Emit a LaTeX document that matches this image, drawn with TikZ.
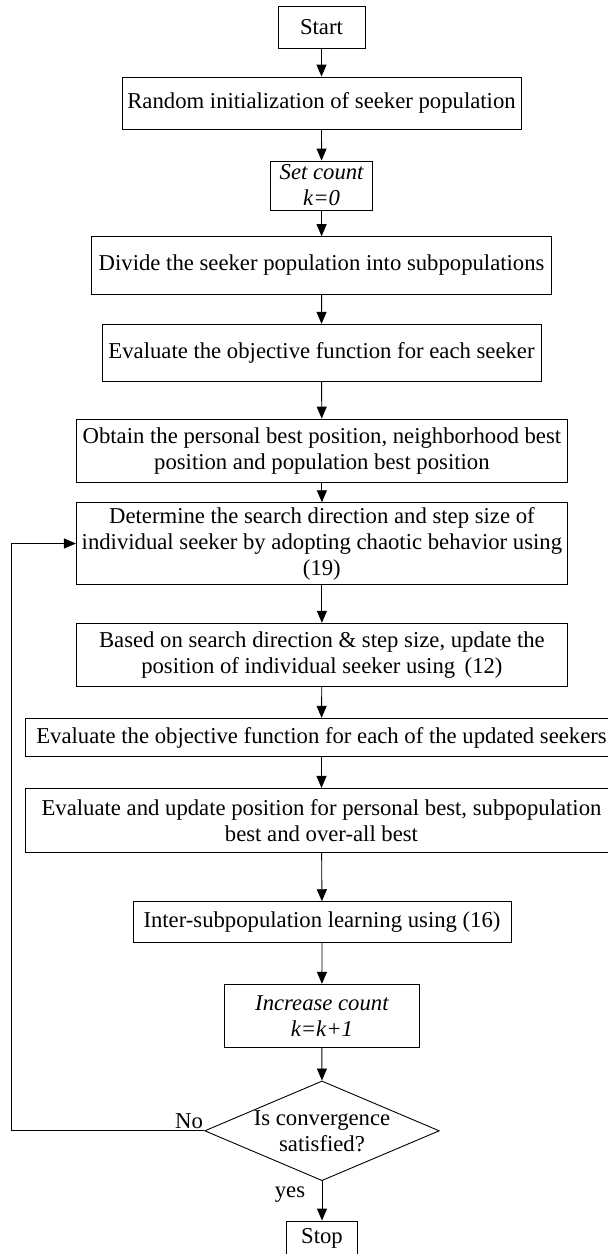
\documentclass[tikz,border=0pt]{standalone}
\usepackage{fontspec}
\setmainfont{Liberation Serif}
\usetikzlibrary{arrows.meta,shapes.geometric}
\begin{document}
\begin{tikzpicture}[x=1pt,y=-1pt,
  every node/.style={font=\fontsize{22.7}{26}\selectfont},
  box/.style={draw, line width=0.9pt, inner sep=0pt, align=center},
  dec/.style={draw, diamond, line width=0.9pt, inner sep=0pt},
  flow/.style={line width=0.9pt, -{Triangle[length=12pt,width=10pt]}},
  lbl/.style={inner sep=0pt, align=center}]
\useasboundingbox (0,0) rectangle (608,1254);
\clip (0,0) rectangle (608,1254);
\node[box, minimum width=87pt, minimum height=41.6pt] (start) at (321.5,27.5) {Start};
\node[box, minimum width=399pt, minimum height=52pt] (rand) at (321.5,103) {Random initialization of seeker population};
\node[box, minimum width=102pt, minimum height=49pt] (set) at (321.6,185.5) {\itshape Set count\\\itshape k=0};
\node[box, minimum width=460pt, minimum height=57.3pt] (div) at (321.6,265.3) {Divide the seeker population into subpopulations};
\node[box, minimum width=439pt, minimum height=57pt] (eval) at (321.5,352.8) {Evaluate the objective function for each seeker};
\node[box, minimum width=491pt, minimum height=63.5pt] (obt) at (321.9,450.8) {Obtain the personal best position, neighborhood best\\position and population best position};
\node[box, minimum width=491pt, minimum height=81.6pt] (det) at (321.9,543.5) {Determine the search direction and step size of\\individual seeker by adopting chaotic behavior using\\(19)};
\node[box, minimum width=491pt, minimum height=63.4pt] (based) at (321.9,655) {Based on search direction \& step size, update the\\position of individual seeker using\, (12)};
\node[box, minimum width=592.4pt, minimum height=38.4pt] (evup) at (321.5,737.5) {Evaluate the objective function for each of the updated seekers};
\node[box, minimum width=592.4pt, minimum height=63.7pt] (evbest) at (321.5,820.2) {Evaluate and update position for personal best, subpopulation\\best and over-all best};
\node[box, minimum width=378pt, minimum height=40.6pt] (inter) at (322,922) {Inter-subpopulation learning using (16)};
\node[box, minimum width=194.5pt, minimum height=63.4pt] (inc) at (321.9,1016) {\itshape Increase count\\\itshape k=k+1};
\node[dec, minimum width=234.7pt, minimum height=99.7pt, shape aspect=2.354] (conv) at (322,1130.8) {};
\node[lbl] (convtxt) at (322,1130.8) {Is convergence\\satisfied?};
\node[box, minimum width=71pt, minimum height=35pt] (stop) at (322,1238.5) {Stop};
\coordinate (lb) at (11,1130.8);
\coordinate (lt) at (11,543.5);
\draw[flow] (start) -- (rand);
\draw[flow] (rand) -- (set);
\draw[flow] (set) -- (div);
\draw[flow] (div) -- (eval);
\draw[flow] (eval) -- (obt);
\draw[flow] (obt) -- (det);
\draw[flow] (det) -- (based);
\draw[flow] (based) -- (evup);
\draw[flow] (evup) -- (evbest);
\draw[flow] (evbest) -- (inter);
\draw[flow] (inter) -- (inc);
\draw[flow] (inc) -- (conv);
\draw[flow] (conv) -- (stop);
\draw[flow] (conv.west) -- (lb) -- (lt) -- (det.west);
\node[lbl] (no) at (189,1121) {No};
\node[lbl] (yes) at (290,1195) {yes};
\end{tikzpicture}
\end{document}
